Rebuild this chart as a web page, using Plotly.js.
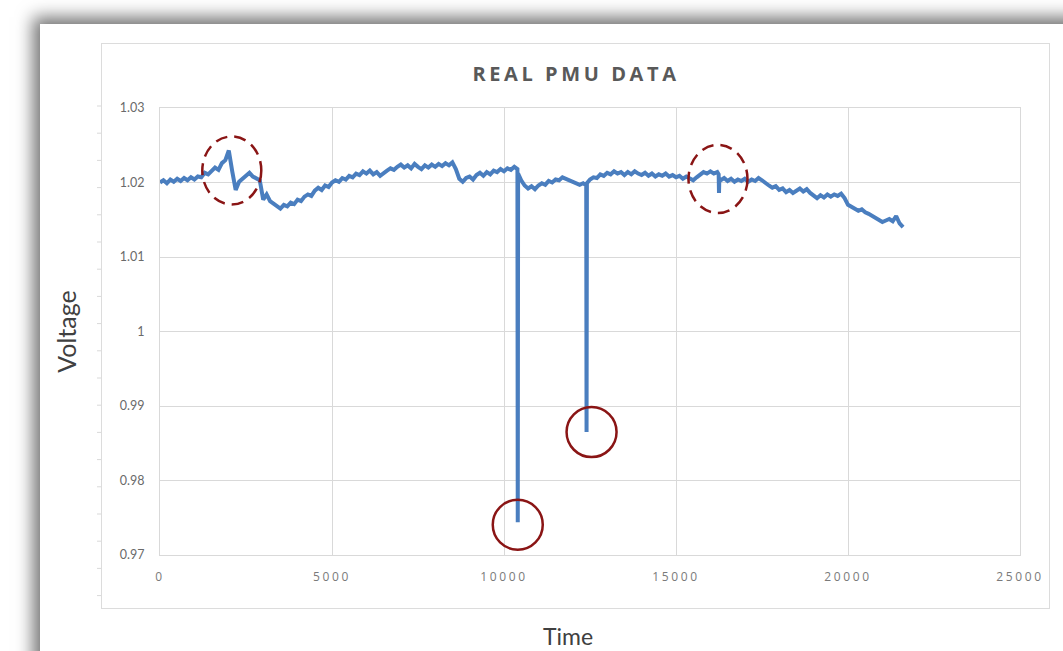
<!DOCTYPE html>
<html>
<head>
<meta charset="utf-8">
<script src="https://cdn.plot.ly/plotly-3.0.1.min.js"></script>
<style>
  html, body { margin: 0; padding: 0; background: #ffffff; overflow: hidden; }
  #card { position: absolute; left: 40px; top: 24px; width: 1100px; height: 700px; background: #ffffff;
          box-shadow: -3px -3px 16px 4px rgba(0,0,0,0.55); }
  #box { position: absolute; left: 101px; top: 43px; width: 947px; height: 564px; border: 1px solid #dcdcdc; }
  #chart { position: absolute; left: 0; top: 0; width: 1063px; height: 651px; }
  .gtitle { letter-spacing: 3.6px; }
  .xtick text { letter-spacing: 2.6px; }
</style>
</head>
<body>
<div id="card"></div>
<div id="box"></div>
<div id="chart"></div>
<script>
// Time samples
var time = [
  0,100,200,300,400,500,600,700,800,900,
  1000,1100,1200,1300,1400,1500,1600,1700,1800,1900,
  2000,2100,2200,2300,2400,2500,2600,2700,2800,2900,
  3000,3100,3200,3300,3400,3500,3600,3700,3800,3900,
  4000,4100,4200,4300,4400,4500,4600,4700,4800,4900,
  5000,5100,5200,5300,5400,5500,5600,5700,5800,5900,
  6000,6100,6200,6300,6400,6500,6600,6700,6800,6900,
  7000,7100,7200,7300,7400,7500,7600,7700,7800,7900,
  8000,8100,8200,8300,8400,8500,8600,8700,8800,8900,
  9000,9100,9200,9300,9400,9500,9600,9700,9800,9900,
  10000,10100,10200,10300,10390,10400,10410,10500,10600,10700,10800,10900,
  11000,11100,11200,11300,11400,11500,11600,11700,11800,11900,
  12000,12100,12200,12300,12390,12400,12410,12500,12600,12700,12800,12900,
  13000,13100,13200,13300,13400,13500,13600,13700,13800,13900,
  14000,14100,14200,14300,14400,14500,14600,14700,14800,14900,
  15000,15100,15200,15300,15400,15500,15600,15700,15800,15900,
  16000,16100,16200,16240,16250,16260,16300,16400,16500,16600,16700,16800,16900,
  17000,17100,17200,17300,17400,17500,17600,17700,17800,17900,
  18000,18100,18200,18300,18400,18500,18600,18700,18800,18900,
  19000,19100,19200,19300,19400,19500,19600,19700,19800,19900,
  20000,20100,20200,20300,20400,20500,20600,20700,20800,20900,
  21000,21100,21200,21300,21400,21500,21600
];
// Voltage readings
var voltage = [
  1.0200,1.0203,1.0199,1.0204,1.0201,1.0205,1.0202,1.0206,1.0203,1.0207,
  1.0204,1.0208,1.0207,1.0213,1.0211,1.0216,1.0220,1.0217,1.0226,1.0230,
  1.0243,1.0215,1.0190,1.0201,1.0205,1.0209,1.0213,1.0208,1.0206,1.0203,
  1.0177,1.0184,1.0175,1.0172,1.0168,1.0165,1.0170,1.0168,1.0173,1.0171,
  1.0177,1.0175,1.0181,1.0184,1.0182,1.0189,1.0193,1.0190,1.0196,1.0194,
  1.0200,1.0203,1.0201,1.0206,1.0204,1.0209,1.0207,1.0212,1.0210,1.0215,
  1.0212,1.0216,1.0211,1.0214,1.0209,1.0213,1.0216,1.0219,1.0217,1.0221,
  1.0224,1.0220,1.0223,1.0219,1.0225,1.0221,1.0218,1.0223,1.0220,1.0224,
  1.0221,1.0225,1.0222,1.0226,1.0223,1.0227,1.0218,1.0205,1.0201,1.0206,
  1.0208,1.0204,1.0210,1.0213,1.0209,1.0214,1.0211,1.0216,1.0214,1.0218,
  1.0215,1.0219,1.0217,1.0221,1.0218,0.9744,1.0212,1.0203,1.0196,1.0192,1.0195,1.0191,
  1.0196,1.0199,1.0197,1.0202,1.0200,1.0204,1.0203,1.0207,1.0205,1.0204,
  1.0202,1.0200,1.0197,1.0199,1.0196,0.9865,1.0199,1.0204,1.0207,1.0206,1.0211,1.0209,
  1.0213,1.0211,1.0215,1.0212,1.0214,1.0210,1.0214,1.0211,1.0215,1.0212,
  1.0210,1.0213,1.0209,1.0212,1.0208,1.0211,1.0209,1.0212,1.0208,1.0210,
  1.0207,1.0209,1.0205,1.0208,1.0206,1.0203,1.0207,1.0211,1.0214,1.0212,
  1.0215,1.0212,1.0214,1.0211,1.0186,1.0205,1.0203,1.0206,1.0202,1.0205,1.0201,1.0204,1.0202,
  1.0205,1.0201,1.0204,1.0202,1.0206,1.0203,1.0199,1.0196,1.0193,1.0195,
  1.0190,1.0192,1.0187,1.0190,1.0186,1.0189,1.0192,1.0188,1.0191,1.0186,
  1.0182,1.0179,1.0183,1.0180,1.0184,1.0181,1.0184,1.0182,1.0185,1.0179,
  1.0170,1.0167,1.0165,1.0162,1.0164,1.0160,1.0158,1.0155,1.0153,1.0150,
  1.0147,1.0149,1.0151,1.0148,1.0155,1.0145,1.0140
];
var xTicks = [0, 5000, 10000, 15000, 20000, 25000];
var xTickLabels = ['0', '5000', '10000', '15000', '20000', '25000'];
var yTicks = [0.97, 0.98, 0.99, 1, 1.01, 1.02, 1.03];
var yTickLabels = ['0.97', '0.98', '0.99', '1', '1.01', '1.02', '1.03'];
// Highlighted events: [time, voltage]
var solidMarks = [[10400, 0.9744], [12400, 0.9865]];
var dashedMarks = [[2000, 1.0243], [16250, 1.0186]];

var red = '#8a1515';
var shapes = [];
// solid circles around the two deep sags
var solidOff = [[0, -2.5], [5, 0]];
solidMarks.forEach(function (m, i) {
  var o = solidOff[i];
  shapes.push({type: 'circle', xref: 'x', yref: 'y', xsizemode: 'pixel', ysizemode: 'pixel',
    xanchor: m[0], yanchor: m[1], x0: o[0] - 25, x1: o[0] + 25, y0: o[1] - 25, y1: o[1] + 25,
    line: {color: red, width: 2.5}});
});
// dashed ellipses around small events
var dashOff = [[3, -20], [-1, 14]];
dashedMarks.forEach(function (m, i) {
  var o = dashOff[i];
  shapes.push({type: 'circle', xref: 'x', yref: 'y', xsizemode: 'pixel', ysizemode: 'pixel',
    xanchor: m[0], yanchor: m[1], x0: o[0] - 29.5, x1: o[0] + 29.5, y0: o[1] - 34, y1: o[1] + 34,
    line: {color: red, width: 2.5, dash: '12px,7px'}});
});
// faint tick marks on the outer chart frame (left edge)
for (var k = 0; k < 19; k++) {
  var py = 106 + k * 27.2;
  var yp = (555 - py) / 447;
  shapes.push({type: 'line', xref: 'paper', yref: 'paper',
    x0: (97 - 160) / 860, x1: (101 - 160) / 860, y0: yp, y1: yp,
    line: {color: '#d9d9d9', width: 1}});
}

var trace = {
  x: time, y: voltage, type: 'scatter', mode: 'lines',
  line: {color: '#4a7ebf', width: 4},
  hoverinfo: 'x+y', showlegend: false
};

var layout = {
  width: 1063, height: 651,
  margin: {l: 160, r: 43, t: 108, b: 96},
  paper_bgcolor: 'rgba(0,0,0,0)',
  plot_bgcolor: 'rgba(0,0,0,0)',
  font: {family: 'Lato, "Open Sans", sans-serif', color: '#666666'},
  title: {
    text: 'REAL PMU DATA',
    font: {family: '"Open Sans", sans-serif', size: 20, color: '#595959', weight: 'bold'},
    x: 576 / 1063, xref: 'container', xanchor: 'center',
    y: 1 - 74 / 651, yref: 'container', yanchor: 'middle'
  },
  xaxis: {
    range: [0, 25000],
    tickvals: xTicks, ticktext: xTickLabels,
    showgrid: true, gridcolor: '#d9d9d9', gridwidth: 1,
    zeroline: false, showline: true, mirror: true, linecolor: '#d9d9d9', linewidth: 1,
    ticks: 'outside', ticklen: 11, tickcolor: 'rgba(0,0,0,0)',
    tickfont: {family: '"Open Sans", sans-serif', size: 12, color: '#7a7a7a'},
    title: {text: '', font: {family: 'Lato, sans-serif', size: 24, color: '#404040'}},
    automargin: false, fixedrange: true
  },
  yaxis: {
    range: [0.97, 1.03],
    tickvals: yTicks, ticktext: yTickLabels,
    showgrid: true, gridcolor: '#d9d9d9', gridwidth: 1,
    zeroline: false, showline: true, mirror: true, linecolor: '#d9d9d9', linewidth: 1,
    ticks: 'outside', ticklen: 12, tickcolor: 'rgba(0,0,0,0)',
    tickfont: {family: 'Lato, sans-serif', size: 12.5, color: '#6a6a6a'},
    title: {text: 'Voltage', font: {family: 'Lato, sans-serif', size: 25, color: '#404040'}, standoff: 36},
    automargin: false, fixedrange: true
  },
  annotations: [{
    text: 'Time', xref: 'paper', yref: 'paper',
    x: (568 - 160) / 860, y: (555 - 636) / 447, xanchor: 'center', yanchor: 'middle',
    showarrow: false, font: {family: 'Lato, sans-serif', size: 23, color: '#404040'}
  }],
  shapes: shapes
};

Plotly.newPlot('chart', [trace], layout, {displayModeBar: false, staticPlot: true});
</script>
</body>
</html>
